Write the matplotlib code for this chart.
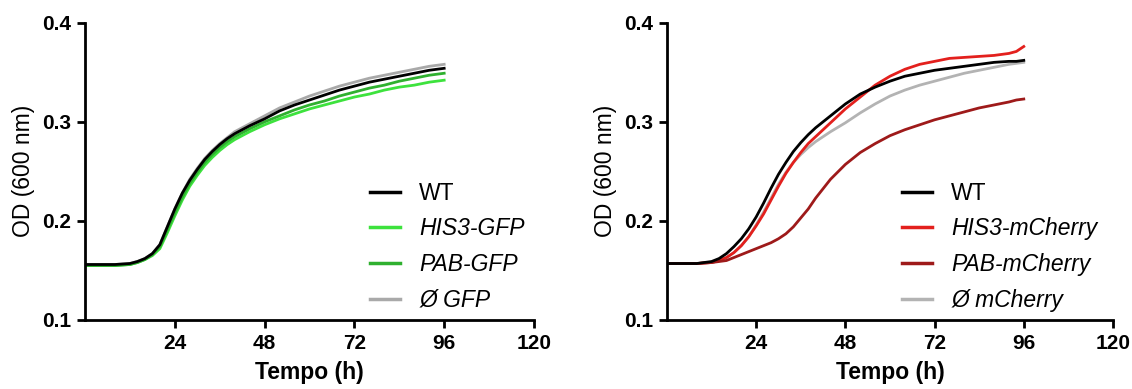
import matplotlib
matplotlib.use("Agg")
import matplotlib.pyplot as plt

plt.rcParams['font.family'] = ['Liberation Sans', 'DejaVu Sans']

# time points (h)
tempo = [0, 4, 8, 12, 14, 16, 18, 20, 22, 24, 26, 28, 30, 32, 34, 36, 38, 40,
         44, 48, 52, 56, 60, 64, 68, 72, 76, 80, 84, 88, 92, 94, 96]

# GFP panel
wt_gfp = [0.156, 0.156, 0.156, 0.157, 0.159, 0.162, 0.167, 0.176, 0.194, 0.212,
          0.228, 0.241, 0.252, 0.262, 0.270, 0.277, 0.283, 0.288,
          0.296, 0.303, 0.311, 0.317, 0.322, 0.327, 0.332, 0.336, 0.340,
          0.343, 0.346, 0.349, 0.352, 0.353, 0.354]
his3_gfp = [0.155, 0.155, 0.155, 0.156, 0.158, 0.161, 0.165, 0.172, 0.188, 0.205,
            0.221, 0.235, 0.246, 0.256, 0.264, 0.271, 0.277, 0.282,
            0.290, 0.297, 0.303, 0.308, 0.313, 0.317, 0.321, 0.325, 0.328,
            0.332, 0.335, 0.337, 0.340, 0.341, 0.342]
pab_gfp = [0.155, 0.155, 0.155, 0.156, 0.158, 0.161, 0.166, 0.174, 0.191, 0.208,
           0.224, 0.238, 0.249, 0.259, 0.267, 0.274, 0.280, 0.285,
           0.293, 0.300, 0.306, 0.312, 0.317, 0.321, 0.326, 0.330, 0.334,
           0.337, 0.341, 0.344, 0.347, 0.348, 0.349]
vazio_gfp = [0.156, 0.156, 0.156, 0.157, 0.159, 0.162, 0.167, 0.176, 0.194, 0.212,
             0.228, 0.242, 0.253, 0.263, 0.271, 0.278, 0.284, 0.290,
             0.298, 0.306, 0.314, 0.320, 0.326, 0.331, 0.336, 0.340, 0.344,
             0.347, 0.350, 0.353, 0.356, 0.357, 0.358]

# mCherry panel
wt_mch = [0.157, 0.157, 0.157, 0.159, 0.162, 0.167, 0.174, 0.182, 0.192, 0.204,
          0.218, 0.233, 0.247, 0.259, 0.270, 0.279, 0.287, 0.294,
          0.306, 0.318, 0.328, 0.335, 0.341, 0.346, 0.349, 0.352, 0.354,
          0.356, 0.358, 0.360, 0.361, 0.361, 0.362]
his3_mch = [0.157, 0.157, 0.157, 0.158, 0.160, 0.163, 0.168, 0.175, 0.184, 0.195,
            0.207, 0.221, 0.235, 0.248, 0.259, 0.269, 0.278, 0.285,
            0.299, 0.313, 0.325, 0.337, 0.346, 0.353, 0.358, 0.361, 0.364,
            0.365, 0.366, 0.367, 0.369, 0.371, 0.376]
pab_mch = [0.157, 0.157, 0.157, 0.158, 0.159, 0.160, 0.163, 0.166, 0.169, 0.172,
           0.175, 0.178, 0.182, 0.187, 0.194, 0.203, 0.212, 0.223,
           0.242, 0.257, 0.269, 0.278, 0.286, 0.292, 0.297, 0.302, 0.306,
           0.310, 0.314, 0.317, 0.320, 0.322, 0.323]
vazio_mch = [0.157, 0.157, 0.157, 0.158, 0.160, 0.163, 0.168, 0.175, 0.184, 0.196,
             0.209, 0.223, 0.237, 0.249, 0.259, 0.267, 0.274, 0.280,
             0.290, 0.299, 0.309, 0.318, 0.326, 0.332, 0.337, 0.341, 0.345,
             0.349, 0.352, 0.355, 0.358, 0.359, 0.360]

labels_gfp = ['WT', 'HIS3-GFP', 'PAB-GFP', 'Ø GFP']
labels_mch = ['WT', 'HIS3-mCherry', 'PAB-mCherry', 'Ø mCherry']
colors_gfp = ['black', '#3de23d', '#2fb02f', '#a9a9a9']
colors_mch = ['black', '#e3201d', '#9e1a1a', '#b3b3b3']


def panel(ax, series, labels, colors, leg_x):
    # grey and greens first so black sits on top
    order = [3, 1, 2, 0]
    lines = {}
    for i in order:
        lines[i], = ax.plot(tempo, series[i], color=colors[i], lw=2.0, label=labels[i])
    ax.set_xlim(0, 120)
    ax.set_ylim(0.1, 0.4)
    ax.set_xticks([24, 48, 72, 96, 120])
    ax.set_yticks([0.1, 0.2, 0.3, 0.4])
    ax.set_yticklabels(['0.1', '0.2', '0.3', '0.4'])
    for s in ['top', 'right']:
        ax.spines[s].set_visible(False)
    for s in ['left', 'bottom']:
        ax.spines[s].set_linewidth(2.0)
    ax.tick_params(width=2.0, length=6, labelsize=15, pad=4)
    for t in ax.get_xticklabels() + ax.get_yticklabels():
        t.set_fontweight('bold')
    ax.set_xlabel('Tempo (h)', fontsize=16.5, fontweight='bold', labelpad=6)
    ax.set_ylabel('OD (600 nm)', fontsize=16.5, labelpad=5)
    leg = ax.legend([lines[i] for i in range(4)], labels, loc='upper left',
                    bbox_to_anchor=(leg_x, 0.465), frameon=False, fontsize=16.5,
                    borderpad=0, borderaxespad=0,
                    handlelength=1.3, handletextpad=0.85, labelspacing=0.55)
    for t in leg.get_texts()[1:]:
        t.set_style('italic')
    for h in leg.get_lines():
        h.set_linewidth(2.5)


fig = plt.figure(figsize=(11.32, 3.89), dpi=100)
ax1 = fig.add_axes([0.0751, 0.1774, 0.3966, 0.7642])
ax2 = fig.add_axes([0.5892, 0.1774, 0.394, 0.7642])

panel(ax1, [wt_gfp, his3_gfp, pab_gfp, vazio_gfp], labels_gfp, colors_gfp, 0.635)
panel(ax2, [wt_mch, his3_mch, pab_mch, vazio_mch], labels_mch, colors_mch, 0.527)

fig.savefig('out.png', dpi=100)
